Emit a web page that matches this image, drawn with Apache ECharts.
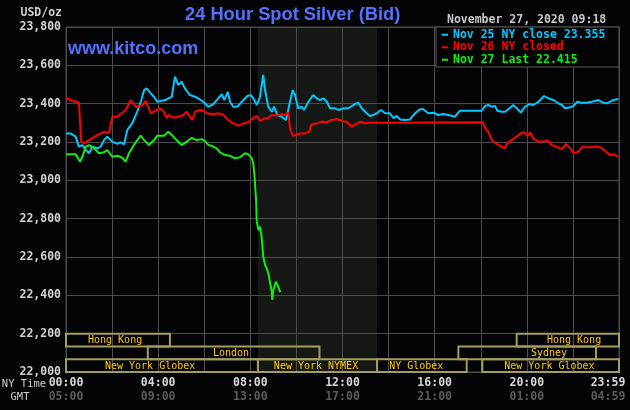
<!DOCTYPE html>
<html><head><meta charset="utf-8">
<script src="https://cdn.jsdelivr.net/npm/echarts@6/dist/echarts.min.js"></script>
<style>html,body{margin:0;padding:0;background:#040406}#c{width:630px;height:410px}</style>
</head><body><div id="c"></div>
<script>
// ---------- DATA ----------
const seriesNames = ['Nov 25 NY close 23.355', 'Nov 26 NY closed', 'Nov 27 Last 22.415'];
const nov25 = [[0,23.245],[0.2,23.245],[0.42,23.228],[0.56,23.176],[0.71,23.184],[0.86,23.158],[1.0,23.141],[1.14,23.176],[1.36,23.167],[1.51,23.176],
[1.65,23.21],[1.79,23.228],[2.01,23.202],[2.23,23.19],[2.37,23.198],[2.52,23.188],[2.66,23.263],[2.88,23.298],[3.09,23.358],[3.27,23.419],
[3.39,23.471],[3.5,23.48],[3.68,23.454],[3.82,23.436],[3.96,23.41],[4.11,23.414],[4.3,23.419],[4.59,23.436],[4.73,23.541],[4.87,23.497],
[5.02,23.515],[5.16,23.48],[5.38,23.445],[5.6,23.436],[5.74,23.428],[5.96,23.41],[6.18,23.384],[6.39,23.397],[6.61,23.428],[6.76,23.449],
[6.87,23.419],[7.02,23.462],[7.12,23.41],[7.26,23.384],[7.43,23.384],[7.63,23.41],[7.87,23.44],[8.02,23.445],[8.13,23.428],[8.28,23.393],
[8.42,23.436],[8.56,23.55],[8.64,23.471],[8.78,23.384],[8.93,23.358],[9.03,23.384],[9.17,23.341],[9.36,23.332],[9.55,23.315],[9.69,23.393],
[9.84,23.471],[9.94,23.445],[10.08,23.376],[10.23,23.384],[10.33,23.367],[10.52,23.41],[10.73,23.445],[10.88,23.428],[11.02,23.419],[11.17,23.428],
[11.32,23.41],[11.46,23.376],[11.68,23.376],[11.82,23.367],[12.04,23.376],[12.25,23.376],[12.33,23.384],[12.54,23.398],[12.69,23.405],[12.83,23.376],
[13.05,23.35],[13.19,23.336],[13.34,23.341],[13.49,23.35],[13.66,23.367],[13.85,23.35],[14.06,23.35],[14.21,23.324],[14.35,23.336],[14.5,23.318],
[14.71,23.315],[14.93,23.318],[15.15,23.35],[15.36,23.371],[15.51,23.371],[15.72,23.35],[15.94,23.353],[16.16,23.341],[16.38,23.346],[16.59,23.341],
[16.88,23.332],[17.1,23.363],[17.32,23.363],[17.68,23.363],[18.04,23.363],[18.19,23.388],[18.33,23.393],[18.48,23.384],[18.62,23.388],[18.72,23.363],
[18.91,23.358],[19.05,23.358],[19.2,23.371],[19.41,23.393],[19.56,23.376],[19.74,23.353],[19.92,23.384],[20.11,23.398],[20.28,23.393],[20.5,23.41],
[20.75,23.44],[20.93,23.428],[21.15,23.419],[21.37,23.402],[21.52,23.393],[21.66,23.376],[21.88,23.381],[22.02,23.388],[22.19,23.41],[22.38,23.405],
[22.6,23.405],[22.82,23.41],[23.1,23.419],[23.32,23.405],[23.47,23.402],[23.68,23.415],[23.9,23.423],[23.98,23.423]];
const nov26 = [[0,23.428],[0.3,23.415],[0.56,23.406],[0.66,23.202],[0.78,23.193],[1.0,23.21],[1.36,23.236],[1.51,23.245],[1.65,23.254],[1.87,23.247],
[1.94,23.29],[2.01,23.332],[2.21,23.332],[2.59,23.367],[2.81,23.419],[2.88,23.428],[3.03,23.384],[3.31,23.393],[3.46,23.414],[3.68,23.35],
[4.08,23.376],[4.25,23.358],[4.37,23.324],[4.44,23.341],[4.66,23.327],[4.87,23.332],[5.09,23.341],[5.24,23.358],[5.38,23.332],[5.48,23.315],
[5.6,23.358],[5.82,23.367],[5.99,23.362],[6.11,23.35],[6.39,23.345],[6.61,23.35],[6.83,23.341],[7.04,23.315],[7.26,23.297],[7.48,23.285],
[7.7,23.297],[7.91,23.303],[8.13,23.325],[8.28,23.336],[8.42,23.31],[8.64,23.324],[8.78,23.324],[8.93,23.341],[9.14,23.338],[9.36,23.345],
[9.51,23.341],[9.65,23.353],[9.72,23.271],[9.84,23.233],[10.01,23.236],[10.16,23.245],[10.37,23.245],[10.56,23.254],[10.66,23.292],[10.88,23.297],
[11.1,23.306],[11.32,23.303],[11.53,23.315],[11.75,23.32],[11.97,23.31],[12.18,23.306],[12.4,23.28],[12.62,23.297],[12.83,23.306],[12.98,23.297],
[13.12,23.3],[18.09,23.303],[18.19,23.271],[18.33,23.254],[18.48,23.21],[18.69,23.19],[18.91,23.176],[19.05,23.167],[19.13,23.193],[19.34,23.21],
[19.56,23.228],[19.78,23.249],[19.92,23.249],[20.02,23.231],[20.14,23.249],[20.28,23.219],[20.5,23.202],[20.72,23.202],[20.89,23.21],[21.08,23.184],
[21.3,23.176],[21.52,23.163],[21.7,23.19],[21.88,23.167],[22.05,23.141],[22.23,23.15],[22.42,23.176],[22.6,23.172],[22.82,23.172],[23.0,23.176],
[23.21,23.172],[23.39,23.154],[23.61,23.132],[23.78,23.136],[23.97,23.123]];
const nov27 = [[0,23.136],[0.42,23.136],[0.61,23.097],[0.71,23.123],[0.86,23.176],[1.0,23.184],[1.22,23.167],[1.43,23.141],[1.65,23.146],[1.79,23.158],
[2.01,23.123],[2.23,23.128],[2.44,23.118],[2.59,23.097],[2.73,23.141],[2.95,23.184],[3.09,23.21],[3.24,23.233],[3.39,23.21],[3.6,23.184],
[3.82,23.21],[3.96,23.233],[4.25,23.233],[4.3,23.237],[4.44,23.254],[4.59,23.237],[4.8,23.21],[5.02,23.184],[5.24,23.202],[5.46,23.222],
[5.67,23.21],[5.89,23.215],[6.03,23.205],[6.18,23.184],[6.32,23.18],[6.54,23.167],[6.68,23.146],[6.9,23.132],[7.12,23.128],[7.34,23.115],
[7.55,23.12],[7.77,23.141],[7.91,23.136],[8.06,23.115],[8.13,23.089],[8.2,22.993],[8.25,22.897],[8.28,22.784],[8.35,22.741],[8.42,22.758],
[8.49,22.706],[8.56,22.602],[8.64,22.558],[8.71,22.541],[8.78,22.515],[8.85,22.471],[8.93,22.419],[8.95,22.376],[9.0,22.428],[9.11,22.471],
[9.21,22.445],[9.3,22.415]];
const nyTimeLabels = ['00:00','04:00','08:00','12:00','16:00','20:00','23:59'];
const gmtLabels = ['05:00','09:00','13:00','17:00','21:00','01:00','04:59'];
const yTickLabels = ['22,000','22,200','22,400','22,600','22,800','23,000','23,200','23,400','23,600','23,800'];
const nymexPit = [8.333, 13.5];
const sessionNames   = ['Hong Kong','London','New York Globex','New York NYMEX','NY Globex','New York Globex','Sydney','Hong Kong'];
const sessionStart   = [0, 3.55, 0, 8.33, 13.5, 18.07, 17.03, 19.56];
const sessionEnd     = [4.51, 11.0, 8.33, 13.5, 17.39, 24, 23.0, 24];
const sessionRow     = [0, 1, 2, 2, 2, 2, 1, 0];
const sessionLabelAt = [2.13, 7.16, 3.65, 10.85, 15.2, 20.98, 20.96, 22.05];

// ---------- STYLE ----------
const MONO = 'DejaVu Sans Mono';
const colors = ['#00c8ff', '#ff0000', '#11ee11'];
const gridColor = '#4c4c4c';
const Y0 = 22, Y1 = 23.8, rowH = 0.2 / 3;

const chart = echarts.init(document.getElementById('c'), null, {renderer: 'canvas'});
const sessionData = sessionStart.map((s, i) => [s, sessionEnd[i], sessionRow[i], sessionLabelAt[i]]);

const option = {
  backgroundColor: '#040406',
  animation: false,
  grid: {left: 66, right: 11, top: 27, bottom: 38, show: true, borderColor: gridColor, borderWidth: 1, z: 3,
         containLabel: false, outerBoundsMode: 'none'},
  xAxis: {
    type: 'value', min: 0, max: 24, interval: 2, z: 3,
    axisLine: {show: false}, axisTick: {show: false},
    splitLine: {show: true, lineStyle: {color: gridColor, width: 1}},
    axisLabel: {
      margin: 4, hideOverlap: false,
      formatter: function (v) {
        const i = Math.round(v / 4);
        if (Math.abs(v - i * 4) > 1e-6) return '';
        const last = i === nyTimeLabels.length - 1;
        return '{' + (last ? 'c' : 'a') + '|' + nyTimeLabels[i] + '}\n{' + (last ? 'd' : 'b') + '|' + gmtLabels[i] + '}';
      },
      rich: {
        a: {color: '#d8d8d8', fontFamily: MONO, fontSize: 11.5, fontWeight: 'bold', lineHeight: 14},
        b: {color: '#5c5c5c', fontFamily: MONO, fontSize: 11.5, fontWeight: 'bold', lineHeight: 14},
        c: {color: '#d8d8d8', fontFamily: MONO, fontSize: 11.5, fontWeight: 'bold', lineHeight: 14, padding: [0, 22, 0, 0]},
        d: {color: '#5c5c5c', fontFamily: MONO, fontSize: 11.5, fontWeight: 'bold', lineHeight: 14, padding: [0, 22, 0, 0]}
      }
    }
  },
  yAxis: {
    type: 'value', min: Y0, max: Y1, interval: 0.2, z: 3,
    axisLine: {show: false}, axisTick: {show: false},
    splitLine: {show: true, lineStyle: {color: gridColor, width: 1}},
    axisLabel: {
      margin: 5, color: '#d4d4d4', fontFamily: MONO, fontSize: 11.5, fontWeight: 'bold',
      formatter: v => yTickLabels[Math.round((v - Y0) / 0.2)]
    }
  },
  legend: {
    orient: 'vertical', left: 442, top: 28.5, padding: 0, itemGap: 0,
    itemWidth: 6, itemHeight: 2, icon: 'rect', selectedMode: false, z: 20,
    textStyle: {fontFamily: MONO, fontSize: 11.5, fontWeight: 'bold', lineHeight: 12.5},
    data: seriesNames.map((n, i) => ({name: n, textStyle: {color: colors[i]}}))
  },
  graphic: [
    {type: 'rect', z: 10, shape: {x: 436, y: 27, width: 183, height: 40},
     style: {fill: '#040406', stroke: '#5a5a5a', lineWidth: 1}},
    {type: 'text', x: 185, y: 15, z: 10,
     style: {text: '24 Hour Spot Silver (Bid)', fill: '#5272ff', font: 'bold 18.3px "Liberation Sans"', align: 'left', verticalAlign: 'middle'}},
    {type: 'text', x: 68, y: 49.5, z: 10,
     style: {text: 'www.kitco.com', fill: '#5272ff', font: 'bold 18px "Liberation Sans"', align: 'left', verticalAlign: 'middle'}},
    {type: 'text', x: 62, y: 13, z: 10,
     style: {text: 'USD/oz', fill: '#d0d0d0', font: 'bold 11.5px "DejaVu Sans Mono"', align: 'right', verticalAlign: 'middle'}},
    {type: 'text', x: 447, y: 20, z: 10,
     style: {text: 'November 27, 2020 09:18', fill: '#c8c8c8', font: 'bold 11.5px "DejaVu Sans Mono"', align: 'left', verticalAlign: 'middle'}},
    {type: 'text', x: 24, y: 384.5, z: 10,
     style: {text: 'NY Time', fill: '#cfcfcf', font: '10.5px "DejaVu Sans Mono"', align: 'center', verticalAlign: 'middle'}},
    {type: 'text', x: 20, y: 397, z: 10,
     style: {text: 'GMT', fill: '#cfcfcf', font: '10.5px "DejaVu Sans Mono"', align: 'center', verticalAlign: 'middle'}}
  ],
  series: [
    {type: 'line', name: '_shade', data: [], z: 1, silent: true,
     markArea: {silent: true, itemStyle: {color: '#161816'}, data: [[{xAxis: nymexPit[0]}, {xAxis: nymexPit[1]}]]}},
    {type: 'custom', name: '_sessions', z: 4, silent: true, clip: false,
     data: sessionData,
     renderItem: function (params, api) {
       const s = api.value(0), e = api.value(1), r = api.value(2), at = api.value(3);
       const p1 = api.coord([s, 22.2 - r * rowH]);
       const p2 = api.coord([e, 22.2 - (r + 1) * rowH]);
       const pl = api.coord([at, 22.2 - (r + 0.5) * rowH]);
       return {type: 'group', children: [
         {type: 'rect', shape: {x: p1[0], y: p1[1], width: p2[0] - p1[0], height: p2[1] - p1[1]},
          style: {fill: 'none', stroke: '#a39d5e', lineWidth: 2}},
         {type: 'text', style: {text: sessionNames[params.dataIndex], x: pl[0], y: pl[1] + 0.5,
          align: 'center', verticalAlign: 'middle', fill: '#ffcc00', font: '10px "DejaVu Sans Mono"'}}
       ]};
     }},
    {type: 'line', name: seriesNames[0], data: nov25, z: 5, showSymbol: false, symbol: 'none',
     lineStyle: {color: colors[0], width: 2}, itemStyle: {color: colors[0]}},
    {type: 'line', name: seriesNames[1], data: nov26, z: 6, showSymbol: false, symbol: 'none',
     lineStyle: {color: colors[1], width: 2}, itemStyle: {color: colors[1]}},
    {type: 'line', name: seriesNames[2], data: nov27, z: 7, showSymbol: false, symbol: 'none',
     lineStyle: {color: colors[2], width: 2}, itemStyle: {color: colors[2]}}
  ]
};
chart.setOption(option);
</script>
</body></html>
